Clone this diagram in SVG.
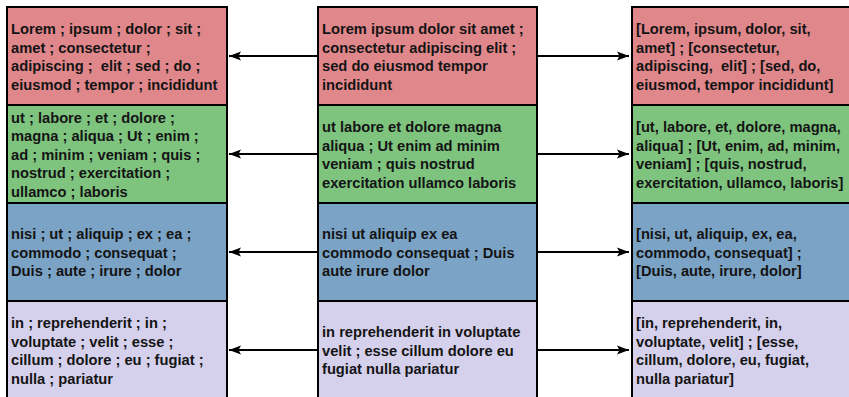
<svg xmlns="http://www.w3.org/2000/svg" width="849" height="397" viewBox="0 0 849 397">
  <style>
    .cell { stroke: #000; stroke-width: 2; }
    .red { fill: #E0878B; }
    .green { fill: #7EC47F; }
    .blue { fill: #7BA3C6; }
    .purple { fill: #D5D0EC; }
    .lbl { font-family: "Liberation Sans", Arial, Helvetica, sans-serif; font-size: 14.7px; font-weight: bold; fill: #141414; }
    .edge { stroke: #000; stroke-width: 2; fill: none; }
  </style>
  <defs>
    <marker id="arrow" markerUnits="userSpaceOnUse" markerWidth="12" markerHeight="10" viewBox="0 0 12 10" refX="12" refY="5" orient="auto">
      <path d="M0,0.5 L12,5 L0,9.5 L2.5,5 Z" fill="#000"/>
    </marker>
  </defs>

  <!-- left column: split tokens -->
  <g id="left-1">
    <rect class="cell red" x="7" y="7" width="220" height="98"/>
    <text class="lbl" x="11" y="34" xml:space="preserve"><tspan x="11" y="34">Lorem ; ipsum ; dolor ; sit ;</tspan><tspan x="11" y="52.5">amet ; consectetur ;</tspan><tspan x="11" y="71">adipiscing ;  elit ; sed ; do ;</tspan><tspan x="11" y="89.5">eiusmod ; tempor ; incididunt</tspan></text>
  </g>
  <g id="left-2">
    <rect class="cell green" x="7" y="105" width="220" height="98"/>
    <text class="lbl"><tspan x="11" y="122.5">ut ; labore ; et ; dolore ;</tspan><tspan x="11" y="141">magna ; aliqua ; Ut ; enim ;</tspan><tspan x="11" y="159.5">ad ; minim ; veniam ; quis ;</tspan><tspan x="11" y="178">nostrud ; exercitation ;</tspan><tspan x="11" y="196.5">ullamco ; laboris</tspan></text>
  </g>
  <g id="left-3">
    <rect class="cell blue" x="7" y="203" width="220" height="98"/>
    <text class="lbl"><tspan x="11" y="239">nisi ; ut ; aliquip ; ex ; ea ;</tspan><tspan x="11" y="257.5">commodo ; consequat ;</tspan><tspan x="11" y="276">Duis ; aute ; irure ; dolor</tspan></text>
  </g>
  <g id="left-4">
    <rect class="cell purple" x="7" y="301" width="220" height="98"/>
    <text class="lbl"><tspan x="11" y="328">in ; reprehenderit ; in ;</tspan><tspan x="11" y="346.5">voluptate ; velit ; esse ;</tspan><tspan x="11" y="365">cillum ; dolore ; eu ; fugiat ;</tspan><tspan x="11" y="383.5">nulla ; pariatur</tspan></text>
  </g>

  <!-- middle column: source sentences -->
  <g id="mid-1">
    <rect class="cell red" x="318" y="7" width="219" height="98"/>
    <text class="lbl"><tspan x="322" y="34">Lorem ipsum dolor sit amet ;</tspan><tspan x="322" y="52.5">consectetur adipiscing elit ;</tspan><tspan x="322" y="71">sed do eiusmod tempor</tspan><tspan x="322" y="89.5">incididunt</tspan></text>
  </g>
  <g id="mid-2">
    <rect class="cell green" x="318" y="105" width="219" height="98"/>
    <text class="lbl"><tspan x="322" y="132">ut labore et dolore magna</tspan><tspan x="322" y="150.5">aliqua ; Ut enim ad minim</tspan><tspan x="322" y="169">veniam ; quis nostrud</tspan><tspan x="322" y="187.5">exercitation ullamco laboris</tspan></text>
  </g>
  <g id="mid-3">
    <rect class="cell blue" x="318" y="203" width="219" height="98"/>
    <text class="lbl"><tspan x="322" y="239">nisi ut aliquip ex ea</tspan><tspan x="322" y="257.5">commodo consequat ; Duis</tspan><tspan x="322" y="276">aute irure dolor</tspan></text>
  </g>
  <g id="mid-4">
    <rect class="cell purple" x="318" y="301" width="219" height="98"/>
    <text class="lbl"><tspan x="322" y="337">in reprehenderit in voluptate</tspan><tspan x="322" y="355.5">velit ; esse cillum dolore eu</tspan><tspan x="322" y="374">fugiat nulla pariatur</tspan></text>
  </g>

  <!-- right column: grouped token lists -->
  <g id="right-1">
    <rect class="cell red" x="632" y="7" width="222" height="98"/>
    <text class="lbl" xml:space="preserve"><tspan x="636" y="34">[Lorem, ipsum, dolor, sit,</tspan><tspan x="636" y="52.5">amet] ; [consectetur,</tspan><tspan x="636" y="71">adipiscing,  elit] ; [sed, do,</tspan><tspan x="636" y="89.5">eiusmod, tempor incididunt]</tspan></text>
  </g>
  <g id="right-2">
    <rect class="cell green" x="632" y="105" width="222" height="98"/>
    <text class="lbl"><tspan x="636" y="132">[ut, labore, et, dolore, magna,</tspan><tspan x="636" y="150.5">aliqua] ; [Ut, enim, ad, minim,</tspan><tspan x="636" y="169">veniam] ; [quis, nostrud,</tspan><tspan x="636" y="187.5">exercitation, ullamco, laboris]</tspan></text>
  </g>
  <g id="right-3">
    <rect class="cell blue" x="632" y="203" width="222" height="98"/>
    <text class="lbl"><tspan x="636" y="239">[nisi, ut, aliquip, ex, ea,</tspan><tspan x="636" y="257.5">commodo, consequat] ;</tspan><tspan x="636" y="276">[Duis, aute, irure, dolor]</tspan></text>
  </g>
  <g id="right-4">
    <rect class="cell purple" x="632" y="301" width="222" height="98"/>
    <text class="lbl"><tspan x="636" y="328">[in, reprehenderit, in,</tspan><tspan x="636" y="346.5">voluptate, velit] ; [esse,</tspan><tspan x="636" y="365">cillum, dolore, eu, fugiat,</tspan><tspan x="636" y="383.5">nulla pariatur]</tspan></text>
  </g>

  <!-- connectors -->
  <g id="connectors">
    <line class="edge" x1="317" y1="56" x2="229" y2="56" marker-end="url(#arrow)"/>
    <line class="edge" x1="317" y1="154" x2="229" y2="154" marker-end="url(#arrow)"/>
    <line class="edge" x1="317" y1="252" x2="229" y2="252" marker-end="url(#arrow)"/>
    <line class="edge" x1="317" y1="350" x2="229" y2="350" marker-end="url(#arrow)"/>
    <line class="edge" x1="538" y1="56" x2="629" y2="56" marker-end="url(#arrow)"/>
    <line class="edge" x1="538" y1="154" x2="629" y2="154" marker-end="url(#arrow)"/>
    <line class="edge" x1="538" y1="252" x2="629" y2="252" marker-end="url(#arrow)"/>
    <line class="edge" x1="538" y1="350" x2="629" y2="350" marker-end="url(#arrow)"/>
  </g>
</svg>
